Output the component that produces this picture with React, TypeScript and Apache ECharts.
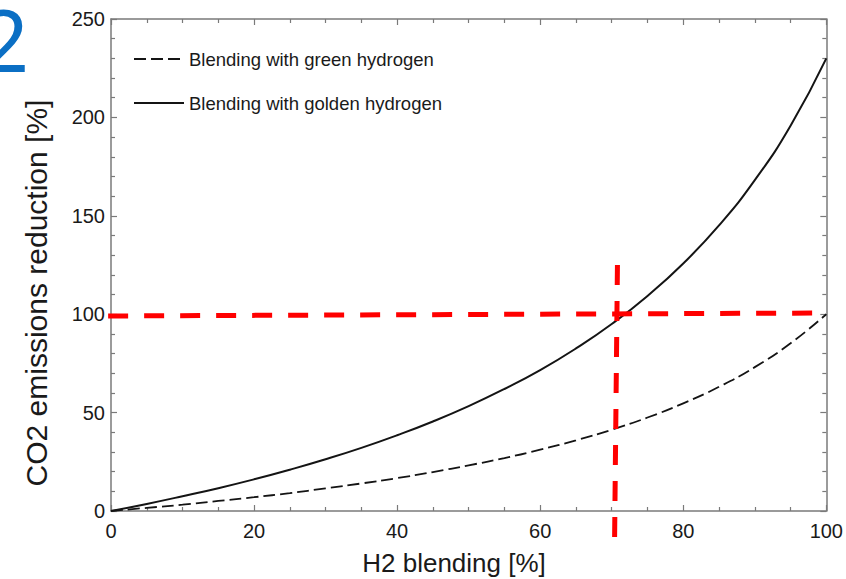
import React, { useEffect, useRef } from "react";
import * as echarts from "echarts";

// H2 blending [%]
const blending = [0, 5, 10, 15, 20, 25, 30, 35, 40, 45, 50, 55, 60, 65, 70, 75, 80, 85, 90, 95, 100];
// CO2 emissions reduction [%] – green hydrogen (dashed)
const greenH2 = [0, 1.6, 3.2, 5.1, 7.0, 9.1, 11.5, 14.0, 16.7, 19.8, 23.2, 26.9, 31.2, 35.9, 41.3, 47.5, 54.7, 63.1, 73.1, 85.2, 100];
// CO2 emissions reduction [%] – golden hydrogen (solid)
const goldenH2 = [0, 3.6, 7.5, 11.6, 16.1, 21.0, 26.3, 32.1, 38.5, 45.5, 53.3, 62.0, 71.6, 82.6, 95.0, 109.3, 125.8, 145.1, 168.1, 195.8, 230];
// red reference lines (hand drawn in the original)
const refHorizX = [-0.4, 100];
const refHorizY = [99.1, 100.6];
const refVertX = [70.8, 70.4];
const refVertY = [125, -14.5];

const seriesNames = ["Blending with green hydrogen", "Blending with golden hydrogen"];
const xTicks = [0, 20, 40, 60, 80, 100];
const yTicks = [0, 50, 100, 150, 200, 250];

const FONT = "'Liberation Sans', Arial, sans-serif";

export default function App() {
  const ref = useRef<HTMLDivElement>(null);
  useEffect(() => {
    if (!ref.current) return;
    const chart = echarts.init(ref.current, null, { renderer: "svg" });
    const axisCommon = {
      axisLine: { show: true, onZero: false, lineStyle: { color: "#7a7a7a", width: 1.5 } },
      axisTick: { show: true, inside: true, length: 6, lineStyle: { color: "#7a7a7a", width: 1.2 } },
      minorTick: { show: true, length: 4, lineStyle: { color: "#7a7a7a", width: 1.2 } },
      splitLine: { show: false },
    };
    const xMin = xTicks[0], xMax = xTicks[xTicks.length - 1];
    const yMin = yTicks[0], yMax = yTicks[yTicks.length - 1];
    const line = (xs: number[], ys: number[]) => xs.map((x, i) => [x, ys[i]]);
    chart.setOption({
      animation: false,
      backgroundColor: "#ffffff",
      textStyle: { fontFamily: FONT },
      grid: { left: 111, right: 17, top: 19, bottom: 68, containLabel: false },
      legend: {
        data: seriesNames,
        orient: "vertical",
        left: 133,
        top: 49,
        padding: 0,
        itemWidth: 50,
        itemHeight: 20,
        itemGap: 24,
        itemStyle: { opacity: 0 },
        textStyle: { fontFamily: FONT, fontSize: 18.5, color: "#1a1a1a", lineHeight: 20 },
        selectedMode: false,
      },
      xAxis: [
        {
          type: "value", position: "bottom", min: xMin, max: xMax, interval: 20,
          ...axisCommon,
          minorTick: { ...axisCommon.minorTick, splitNumber: 4 },
          axisLabel: { show: true, margin: 10, fontSize: 20, color: "#1a1a1a", fontFamily: FONT },
        },
        {
          type: "value", position: "top", min: xMin, max: xMax, interval: 20,
          ...axisCommon,
          minorTick: { ...axisCommon.minorTick, splitNumber: 4 },
          axisLabel: { show: false },
        },
      ],
      yAxis: [
        {
          type: "value", position: "left", min: yMin, max: yMax, interval: 50,
          ...axisCommon,
          minorTick: { ...axisCommon.minorTick, splitNumber: 5 },
          axisLabel: { show: true, margin: 6, fontSize: 20, color: "#1a1a1a", fontFamily: FONT },
        },
        {
          type: "value", position: "right", min: yMin, max: yMax, interval: 50,
          ...axisCommon,
          minorTick: { ...axisCommon.minorTick, splitNumber: 5 },
          axisLabel: { show: false },
        },
      ],
      graphic: [
        {
          type: "text", x: -20, y: 38,
          style: { text: "2", font: `86px 'Noto Sans', 'Open Sans', sans-serif`, fill: "#0b6fc4", verticalAlign: "middle", textAlign: "left" },
        },
        {
          type: "text", x: 454, y: 563,
          style: { text: "H2 blending [%]", font: `26px ${FONT}`, fill: "#1a1a1a", textAlign: "center", verticalAlign: "middle" },
        },
        {
          type: "text", x: 36, y: 293, rotation: Math.PI / 2,
          style: { text: "CO2 emissions reduction [%]", font: `30px ${FONT}`, fill: "#1a1a1a", textAlign: "center", verticalAlign: "middle" },
        },
      ],
      series: [
        {
          name: seriesNames[0], type: "line", smooth: true, symbol: "none", showSymbol: false,
          data: line(blending, greenH2),
          lineStyle: { color: "#141414", width: 1.8, type: [12, 5] },
          itemStyle: { color: "#141414" },
          z: 3,
        },
        {
          name: seriesNames[1], type: "line", smooth: true, symbol: "none", showSymbol: false,
          data: line(blending, goldenH2),
          lineStyle: { color: "#141414", width: 2 },
          itemStyle: { color: "#141414" },
          z: 3,
        },
        {
          name: "ref-h", type: "line", symbol: "none", silent: true, clip: false,
          data: line(refHorizX, refHorizY),
          lineStyle: { color: "#ff0000", width: 5, type: [20, 16], cap: "butt" },
          z: 5,
        },
        {
          name: "ref-v", type: "line", symbol: "none", silent: true, clip: false,
          data: line(refVertX, refVertY),
          lineStyle: { color: "#ff0000", width: 5, type: [20, 16], cap: "butt" },
          z: 5,
        },
      ],
    });
    return () => chart.dispose();
  }, []);
  return <div ref={ref} style={{ width: 846, height: 579, position: "absolute", left: 0, top: 0 }} />;
}
